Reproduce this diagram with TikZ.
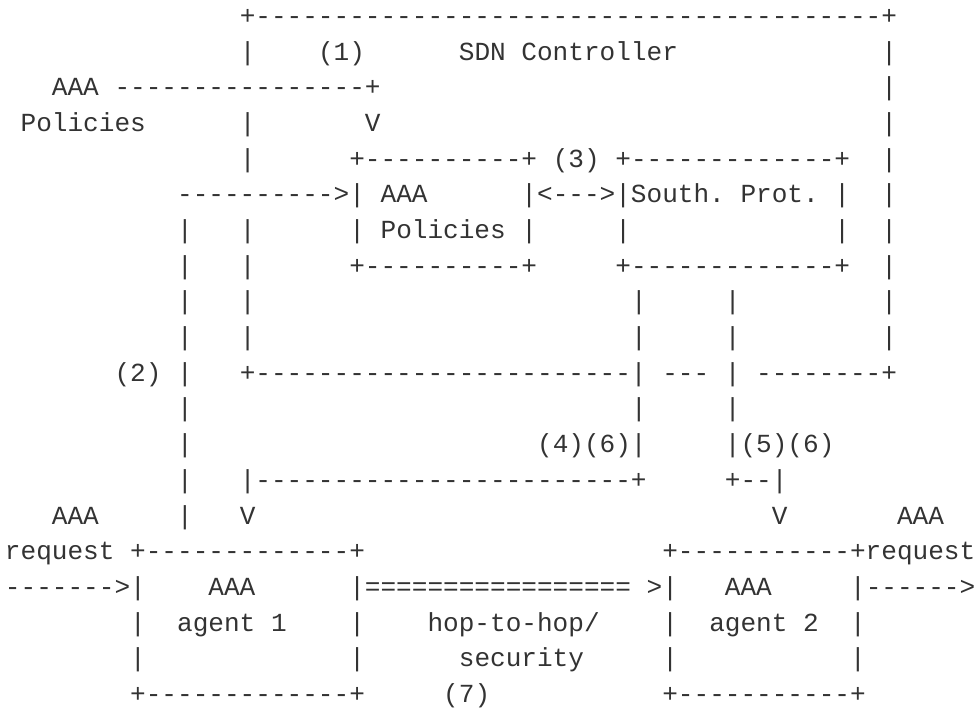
\documentclass[tikz,border=0pt]{standalone}
\usepackage{fontspec}
\setmonofont{Liberation Mono}
\newcommand\chrun[2]{\ifnum#1>0 #2\expandafter\chrun\expandafter{\the\numexpr#1-1\relax}{#2}\fi}
\definecolor{ink}{RGB}{51,51,51}
\begin{document}
\begin{tikzpicture}[t/.style={anchor=base west,inner sep=0pt,outer sep=0pt,font=\ttfamily\frenchspacing\fontsize{26.08pt}{35.68pt}\selectfont,text=ink}]
\useasboundingbox (0,0) rectangle (975pt,-709pt);
\begin{scope}[x=15.65pt,y=-35.68pt,shift={(5pt,-24.5pt)}]
% line 0
\node[t] (a0) at (15,0) {+\chrun{40}{-}+};
% line 1
\node[t] (a1) at (15,1) {|};
\node[t] (a2) at (20,1) {(1)};
\node[t] (a3) at (29,1) {SDN Controller};
\node[t] (a4) at (56,1) {|};
% line 2
\node[t] (b1) at (3,2) {AAA};
\node[t] (b2) at (7,2) {\chrun{16}{-}+};
\node[t] (b3) at (56,2) {|};
% line 3
\node[t] (c1) at (1,3) {Policies};
\node[t] (c2) at (15,3) {|};
\node[t] (c3) at (23,3) {V};
\node[t] (c4) at (56,3) {|};
% line 4
\node[t] (d1) at (15,4) {|};
\node[t] (d2) at (22,4) {+\chrun{10}{-}+};
\node[t] (d3) at (35,4) {(3)};
\node[t] (d4) at (39,4) {+\chrun{13}{-}+};
\node[t] (d5) at (56,4) {|};
% line 5
\node[t] (e1) at (11,5) {\chrun{10}{-}>|};
\node[t] (e2) at (24,5) {AAA};
\node[t] (e3) at (33,5) {|<--->|South. Prot.};
\node[t] (e4) at (53,5) {|};
\node[t] (e5) at (56,5) {|};
% line 6
\node[t] (f1) at (11,6) {|};
\node[t] (f2) at (15,6) {|};
\node[t] (f3) at (22,6) {|};
\node[t] (f4) at (24,6) {Policies};
\node[t] (f5) at (33,6) {|};
\node[t] (f6) at (39,6) {|};
\node[t] (f7) at (53,6) {|};
\node[t] (f8) at (56,6) {|};
% line 7
\node[t] (g1) at (11,7) {|};
\node[t] (g2) at (15,7) {|};
\node[t] (g3) at (22,7) {+\chrun{10}{-}+};
\node[t] (g4) at (39,7) {+\chrun{13}{-}+};
\node[t] (g5) at (56,7) {|};
% line 8
\node[t] (h1) at (11,8) {|};
\node[t] (h2) at (15,8) {|};
\node[t] (h3) at (40,8) {|};
\node[t] (h4) at (46,8) {|};
\node[t] (h5) at (56,8) {|};
% line 9
\node[t] (i1) at (11,9) {|};
\node[t] (i2) at (15,9) {|};
\node[t] (i3) at (40,9) {|};
\node[t] (i4) at (46,9) {|};
\node[t] (i5) at (56,9) {|};
% line 10
\node[t] (j1) at (7,10) {(2)};
\node[t] (j2) at (11,10) {|};
\node[t] (j3) at (15,10) {+\chrun{24}{-}|};
\node[t] (j4) at (42,10) {---};
\node[t] (j5) at (46,10) {|};
\node[t] (j6) at (48,10) {\chrun{8}{-}+};
% line 11
\node[t] (k1) at (11,11) {|};
\node[t] (k2) at (40,11) {|};
\node[t] (k3) at (46,11) {|};
% line 12
\node[t] (l1) at (11,12) {|};
\node[t] (l2) at (34,12) {(4)(6)|};
\node[t] (l3) at (46,12) {|(5)(6)};
% line 13
\node[t] (m1) at (11,13) {|};
\node[t] (m2) at (15,13) {|\chrun{24}{-}+};
\node[t] (m3) at (46,13) {+--|};
% line 14
\node[t] (n1) at (3,14) {AAA};
\node[t] (n2) at (11,14) {|};
\node[t] (n3) at (15,14) {V};
\node[t] (n4) at (49,14) {V};
\node[t] (n5) at (57,14) {AAA};
% line 15
\node[t] (o1) at (0,15) {request};
\node[t] (o2) at (8,15) {+\chrun{13}{-}+};
\node[t] (o3) at (42,15) {+\chrun{11}{-}+request};
% line 16
\node[t] (p1) at (0,16) {\chrun{7}{-}>|};
\node[t] (p2) at (13,16) {AAA};
\node[t] (p3) at (22,16) {|\chrun{17}{=}};
\node[t] (p4) at (41,16) {>|};
\node[t] (p5) at (46,16) {AAA};
\node[t] (p6) at (54,16) {|\chrun{6}{-}>};
% line 17
\node[t] (q1) at (8,17) {|};
\node[t] (q2) at (11,17) {agent 1};
\node[t] (q3) at (22,17) {|};
\node[t] (q4) at (27,17) {hop-to-hop/};
\node[t] (q5) at (42,17) {|};
\node[t] (q6) at (45,17) {agent 2};
\node[t] (q7) at (54,17) {|};
% line 18
\node[t] (r1) at (8,18) {|};
\node[t] (r2) at (22,18) {|};
\node[t] (r3) at (29,18) {security};
\node[t] (r4) at (42,18) {|};
\node[t] (r5) at (54,18) {|};
% line 19
\node[t] (s1) at (8,19) {+\chrun{13}{-}+};
\node[t] (s2) at (28,19) {(7)};
\node[t] (s3) at (42,19) {+\chrun{11}{-}+};
\end{scope}
\end{tikzpicture}
\end{document}
